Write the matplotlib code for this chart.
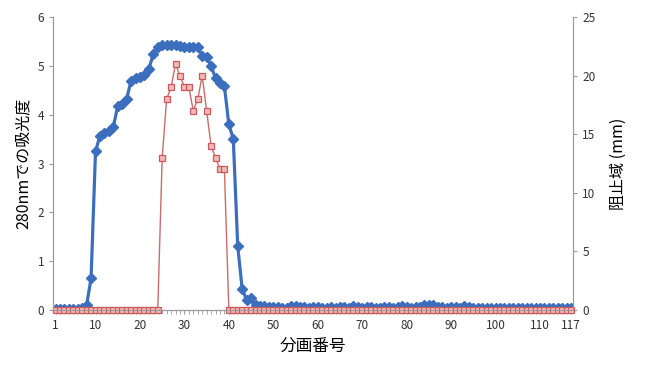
import numpy as np
import matplotlib
matplotlib.use('Agg')
import matplotlib.pyplot as plt

plt.rcParams['font.family'] = ['Noto Sans CJK JP', 'DejaVu Sans']

### DATA
fractions = list(range(1, 118))

# absorbance at 280 nm (left axis)
absorb = [0.02, 0.02, 0.02, 0.02, 0.02, 0.02, 0.03, 0.1, 0.65, 3.25,
          3.57, 3.62, 3.67, 3.75, 4.18, 4.23, 4.32, 4.7, 4.75, 4.78,
          4.82, 4.94, 5.24, 5.39, 5.42, 5.43, 5.43, 5.42, 5.4, 5.38,
          5.38, 5.38, 5.38, 5.2, 5.18, 5.0, 4.75, 4.65, 4.58, 3.8,
          3.5, 1.3, 0.43, 0.2, 0.25, 0.1, 0.08, 0.08, 0.06, 0.06,
          0.05, 0.03, 0.04, 0.08, 0.07, 0.06, 0.05, 0.04, 0.06, 0.05,
          0.04, 0.03, 0.05, 0.04, 0.06, 0.05, 0.04, 0.07, 0.05, 0.04,
          0.06, 0.05, 0.04, 0.03, 0.05, 0.06, 0.04, 0.05, 0.07, 0.05,
          0.04, 0.06, 0.05, 0.09, 0.11, 0.1, 0.06, 0.05, 0.04, 0.06,
          0.05, 0.04, 0.08, 0.05, 0.04, 0.03, 0.03, 0.03, 0.03, 0.03,
          0.03, 0.03, 0.03, 0.03, 0.03, 0.03, 0.03, 0.03, 0.03, 0.03,
          0.03, 0.03, 0.03, 0.03, 0.03, 0.03, 0.03]

# inhibition zone in mm (right axis)
zone = [0]*24 + [13, 18, 19, 21, 20, 19, 19, 17, 18, 20, 17, 14, 13, 12, 12] + [0]*78

xticks = [1, 10, 20, 30, 40, 50, 60, 70, 80, 90, 100, 110, 117]

### PLOT
fig = plt.figure(figsize=(6.5, 3.65), dpi=100)
ax = fig.add_axes([0.082, 0.151, 0.8, 0.802])
ax2 = ax.twinx()

ax.plot(fractions, absorb, c='#3C6EBE', lw=2.3, marker='D', ms=5, zorder=3)
# red series drawn on top so the zero row stays visible
ax2.plot(fractions, zone, c='#CC6B6B', lw=1, marker='s', ms=4.3,
         mfc='#F4B8B8', mec='#C85A5A', mew=0.9, zorder=2, clip_on=False)

ax.set_xlim(0.5, 117.5)
ax.set_ylim(0, 6)
ax2.set_ylim(0, 25)
ax.set_xticks(xticks)
ax.set_xticks(fractions, minor=True)
ax.set_yticks(range(0, 7))
ax2.set_yticks(range(0, 26, 5))

for a in (ax, ax2):
    a.spines['top'].set_visible(False)
    for s in ('left', 'right', 'bottom'):
        a.spines[s].set_color('#9a9a9a')
    a.tick_params(colors='#9a9a9a', labelcolor='#333333', labelsize=8.5, length=3)
ax.tick_params(axis='x', which='minor', length=3, color='#9a9a9a')
ax.tick_params(axis='x', which='major', length=3)

ax.set_xlabel('分画番号', fontsize=12, labelpad=4)
ax.set_ylabel('280nmでの吸光度', fontsize=11.5, labelpad=4)
ax2.set_ylabel('阻止域 (mm)', fontsize=11.5, labelpad=10, rotation=90)

fig.savefig('out.png')
